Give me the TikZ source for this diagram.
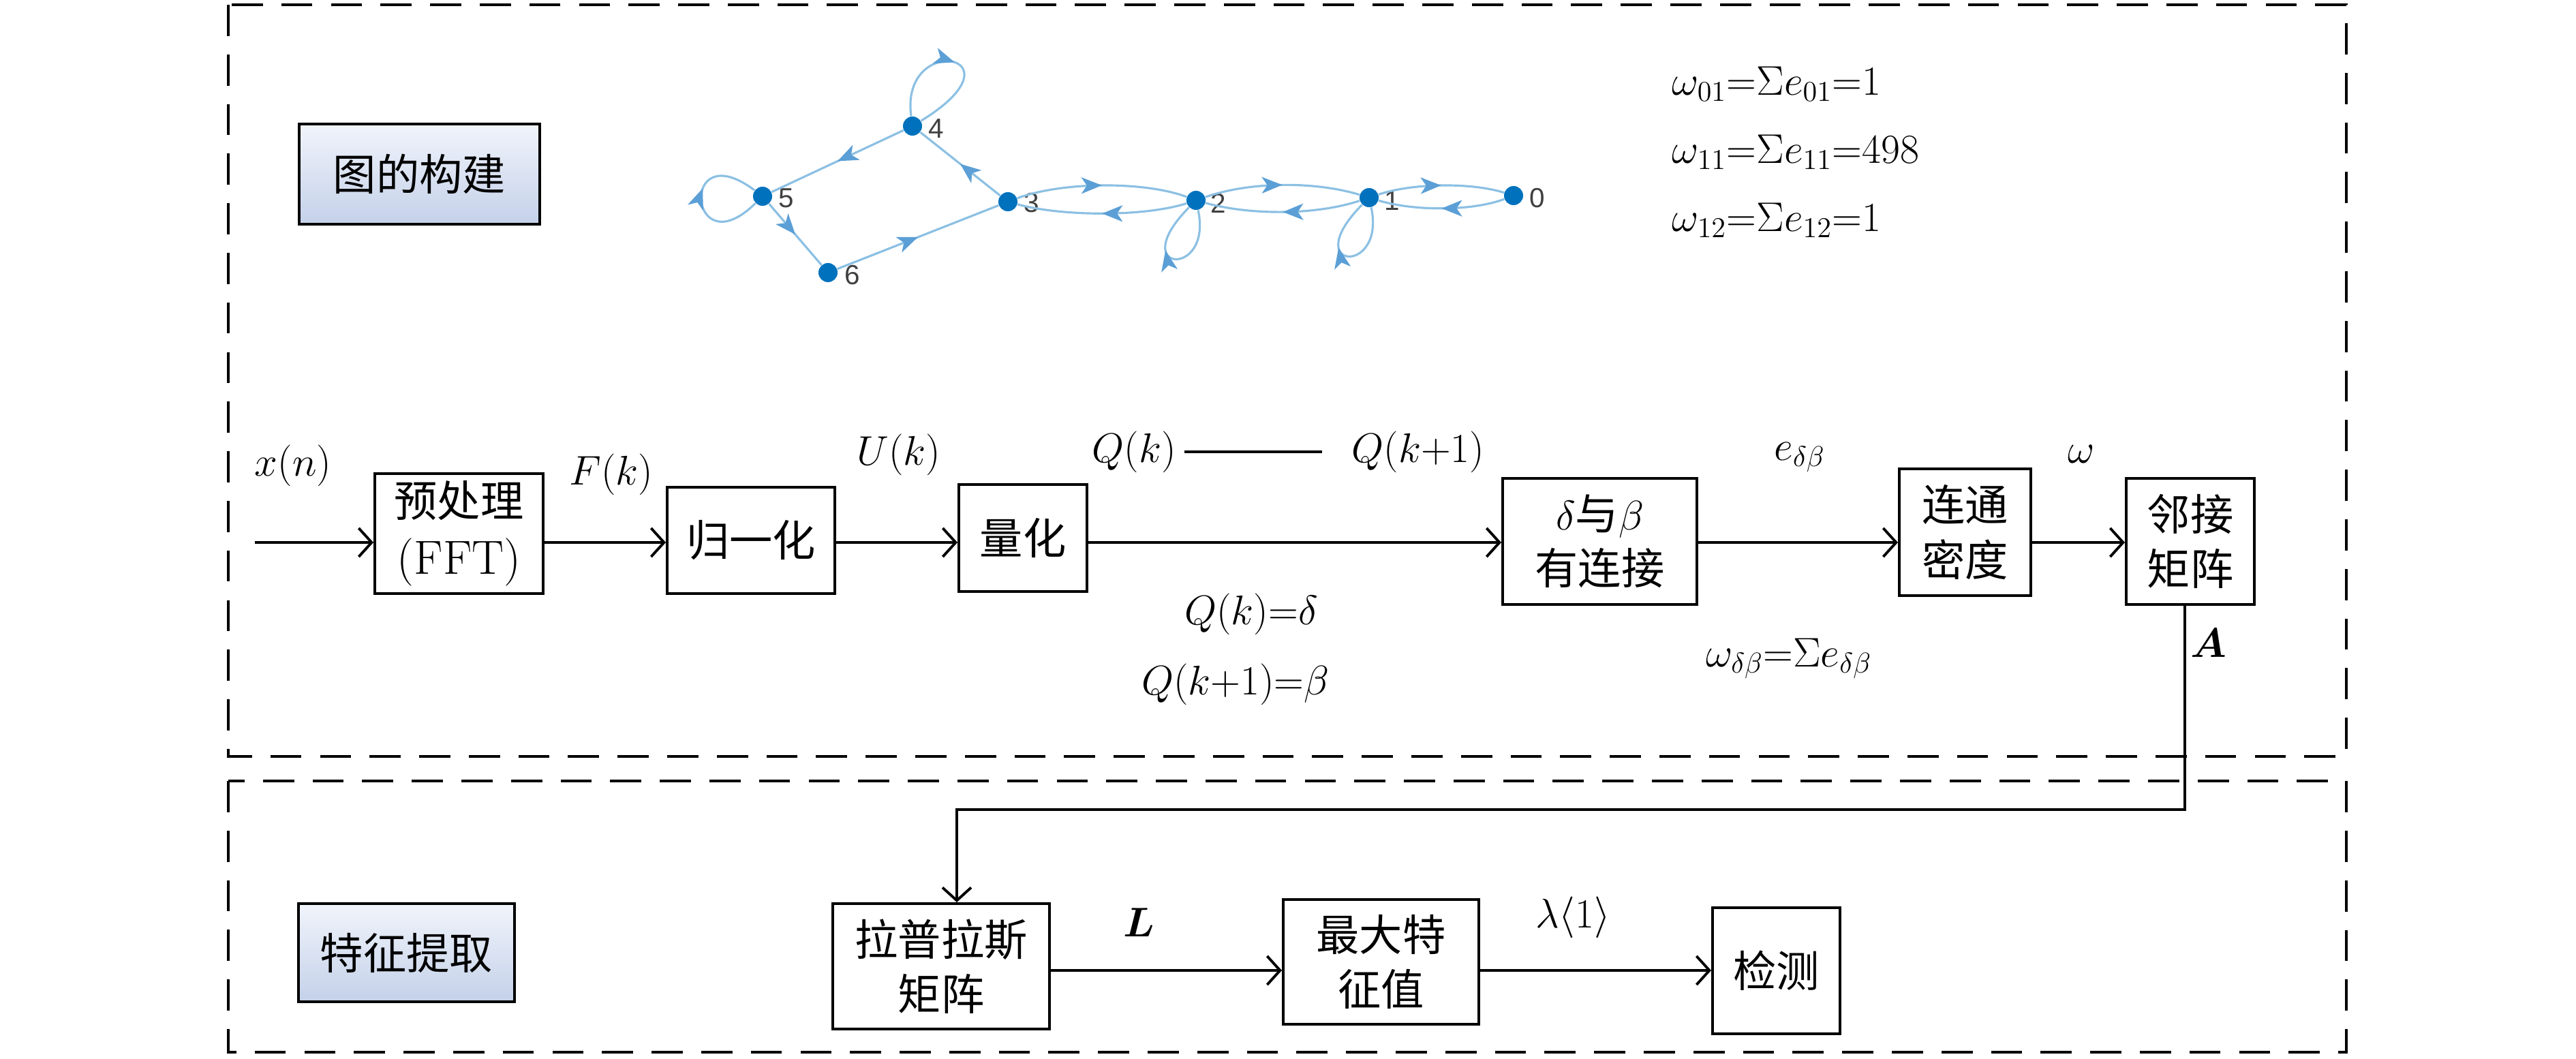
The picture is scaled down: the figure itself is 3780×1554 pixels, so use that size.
\documentclass[tikz,border=0pt]{standalone}
\usepackage{fontspec}
\usepackage{bm}
\usetikzlibrary{arrows.meta,decorations.markings}
\newfontfamily\cjk{Noto Sans CJK SC}
\newfontfamily\gfont{Liberation Sans}
\definecolor{gblue}{HTML}{0072BD}
\definecolor{gedgec}{HTML}{8CC0E3}
\definecolor{garrowc}{HTML}{5B9FD6}
\definecolor{ttop}{RGB}{241,244,251}
\definecolor{tbot}{RGB}{196,209,233}
\begin{document}
\begin{tikzpicture}[x=0.01cm,y=-0.01cm,
  every node/.style={inner sep=0pt, font=\fontsize{18}{22.8}\selectfont},
  procbox/.style={draw, line width=1.1pt, align=center},
  titlebox/.style={draw, line width=1.3pt, top color=ttop, bottom color=tbot, align=center},
  dashbox/.style={line width=1.3pt, dash pattern=on 13pt off 7.7pt},
  arr/.style={line width=1.1pt, -{Straight Barb[length=0.19cm,width=0.42cm]}},
  gdot/.style={circle, fill=gblue, minimum size=0.28cm},
  glabel/.style={font=\gfont\fontsize{11.5}{12}\selectfont, text=black!75},
  gedge/.style={draw=gedgec, line width=0.9pt, postaction={decorate},
    decoration={markings, mark=at position #1 with {\arrow[garrowc]{Stealth[length=0.3cm,width=0.24cm,inset=0.08cm]}}}},
  gedge/.default=0.5
]
\useasboundingbox (0,0) rectangle (3780,1554);

% dashed frames
\draw[dashbox] (335,7) rectangle (3443,1110);
\draw[dashbox] (335,1146) rectangle (3443,1544);

% title boxes
\node[titlebox, minimum width=3.53cm, minimum height=1.47cm] (t1) at (615.5,255.5) {\cjk 图的构建};
\node[titlebox, minimum width=3.17cm, minimum height=1.44cm] (t2) at (596.5,1398) {\cjk 特征提取};

% process boxes
\node[procbox, minimum width=2.47cm, minimum height=1.76cm] (pre) at (673.5,783) {{\cjk 预处理}\\[1pt]{\fontsize{20}{24}\selectfont (FFT)}};
\node[procbox, minimum width=2.46cm, minimum height=1.56cm] (norm) at (1102,793) {\cjk 归一化};
\node[procbox, minimum width=1.88cm, minimum height=1.57cm] (quant) at (1501,789.5) {\cjk 量化};
\node[procbox, minimum width=2.85cm, minimum height=1.85cm] (link) at (2347.5,794.5) {$\delta${\cjk 与}$\beta$\\{\cjk 有连接}};
\node[procbox, minimum width=1.93cm, minimum height=1.86cm] (dens) at (2883.5,781) {{\cjk 连通}\\{\cjk 密度}};
\node[procbox, minimum width=1.88cm, minimum height=1.85cm] (adj) at (3214,794.5) {{\cjk 邻接}\\{\cjk 矩阵}};
\node[procbox, minimum width=3.18cm, minimum height=1.84cm] (lap) at (1381,1418) {{\cjk 拉普拉斯}\\{\cjk 矩阵}};
\node[procbox, minimum width=2.87cm, minimum height=1.83cm] (maxe) at (2026.5,1411.5) {{\cjk 最大特}\\{\cjk 征值}};
\node[procbox, minimum width=1.87cm, minimum height=1.85cm] (det) at (2606.5,1424.5) {\cjk 检测};

% connectors
\coordinate (row) at (0,796);
\coordinate (rowb) at (0,1424);
\coordinate (xin) at (374,796);
\coordinate (ca) at (3206,1188);
\coordinate (cb) at (1404,1188);
\draw[arr] (xin) -- (pre.west |- row);
\draw[arr] (pre.east |- row) -- (norm.west |- row);
\draw[arr] (norm.east |- row) -- (quant.west |- row);
\draw[arr] (quant.east |- row) -- (link.west |- row);
\draw[arr] (link.east |- row) -- (dens.west |- row);
\draw[arr] (dens.east |- row) -- (adj.west |- row);
\draw[arr] (adj.south -| ca) -- (ca) -- (cb) -- (cb |- lap.north);
\draw[arr] (lap.east |- rowb) -- (maxe.west |- rowb);
\draw[arr] (maxe.east |- rowb) -- (det.west |- rowb);

% labels
\node[anchor=base] (lxn) at (430,698) {$x(n)$};
\node[anchor=base] (lfk) at (897,711) {$F(k)$};
\node[anchor=base] (luk) at (1319,682) {$U(k)$};
\node[anchor=base] (lqk) at (1664,678) {$Q(k)$};
\node[anchor=base] (lqk1) at (2081,678) {$Q(k{+}1)$};
\draw[line width=1.1pt] ([xshift=0.12cm]lqk.east) -- ([xshift=-0.43cm]lqk1.west);
\node[anchor=base] (le) at (2641,675) {$e_{\delta\beta}$};
\node[anchor=base] (lw) at (3054,679) {$\omega$};
\node[anchor=base] (lqd) at (1836,916) {$Q(k){=}\delta$};
\node[anchor=base] (lqb) at (1813,1019) {$Q(k{+}1){=}\beta$};
\node[anchor=base] (lws) at (2625,978) {$\omega_{\delta\beta}{=}\Sigma e_{\delta\beta}$};
\node[anchor=base] (la) at (3241,964) {$\bm{A}$};
\node[anchor=base] (ll) at (1671,1374) {$\bm{L}$};
\node[anchor=base] (llam) at (2308,1361) {$\lambda\langle 1\rangle$};
\node[anchor=base west] (w1) at (2453,139) {$\omega_{01}{=}\Sigma e_{01}{=}1$};
\node[anchor=base west] (w2) at (2453,239) {$\omega_{11}{=}\Sigma e_{11}{=}498$};
\node[anchor=base west] (w3) at (2453,339) {$\omega_{12}{=}\Sigma e_{12}{=}1$};

% graph
\node[gdot] (n4) at (1339,185) {};
\node[gdot] (n5) at (1119,288) {};
\node[gdot] (n6) at (1215,400) {};
\node[gdot] (n3) at (1479,296) {};
\node[gdot] (n2) at (1755,294) {};
\node[gdot] (n1) at (2009,290) {};
\node[gdot] (n0) at (2221,287) {};
\node[glabel] (g4) at (1374,189) {4};
\node[glabel] (g5) at (1154,291) {5};
\node[glabel] (g6) at (1251,404) {6};
\node[glabel] (g3) at (1514,298) {3};
\node[glabel] (g2) at (1788,298) {2};
\node[glabel] (g1) at (2043,295) {1};
\node[glabel] (g0) at (2256,291) {0};

\draw[gedge] (n3) -- (n4);
\draw[gedge] (n4) -- (n5);
\draw[gedge] (n5) -- (n6);
\draw[gedge] (n6) -- (n3);
\draw[gedge] (n3) .. controls (1560,266) and (1680,266) .. (n2);
\draw[gedge] (n2) .. controls (1680,318) and (1560,318) .. (n3);
\draw[gedge] (n2) .. controls (1835,266) and (1930,266) .. (n1);
\draw[gedge] (n1) .. controls (1930,316) and (1835,316) .. (n2);
\draw[gedge] (n1) .. controls (2075,268) and (2160,268) .. (n0);
\draw[gedge] (n0) .. controls (2160,310) and (2075,310) .. (n1);
\draw[gedge] (n4) .. controls (1320,45) and (1510,80) .. (n4);
\draw[gedge=0.58] (n5) .. controls (1010,395) and (995,195) .. (n5);
\draw[gedge=0.6] (n2) .. controls (1780,410) and (1650,400) .. (n2);
\draw[gedge=0.6] (n1) .. controls (2034,406) and (1904,396) .. (n1);
\end{tikzpicture}
\end{document}
